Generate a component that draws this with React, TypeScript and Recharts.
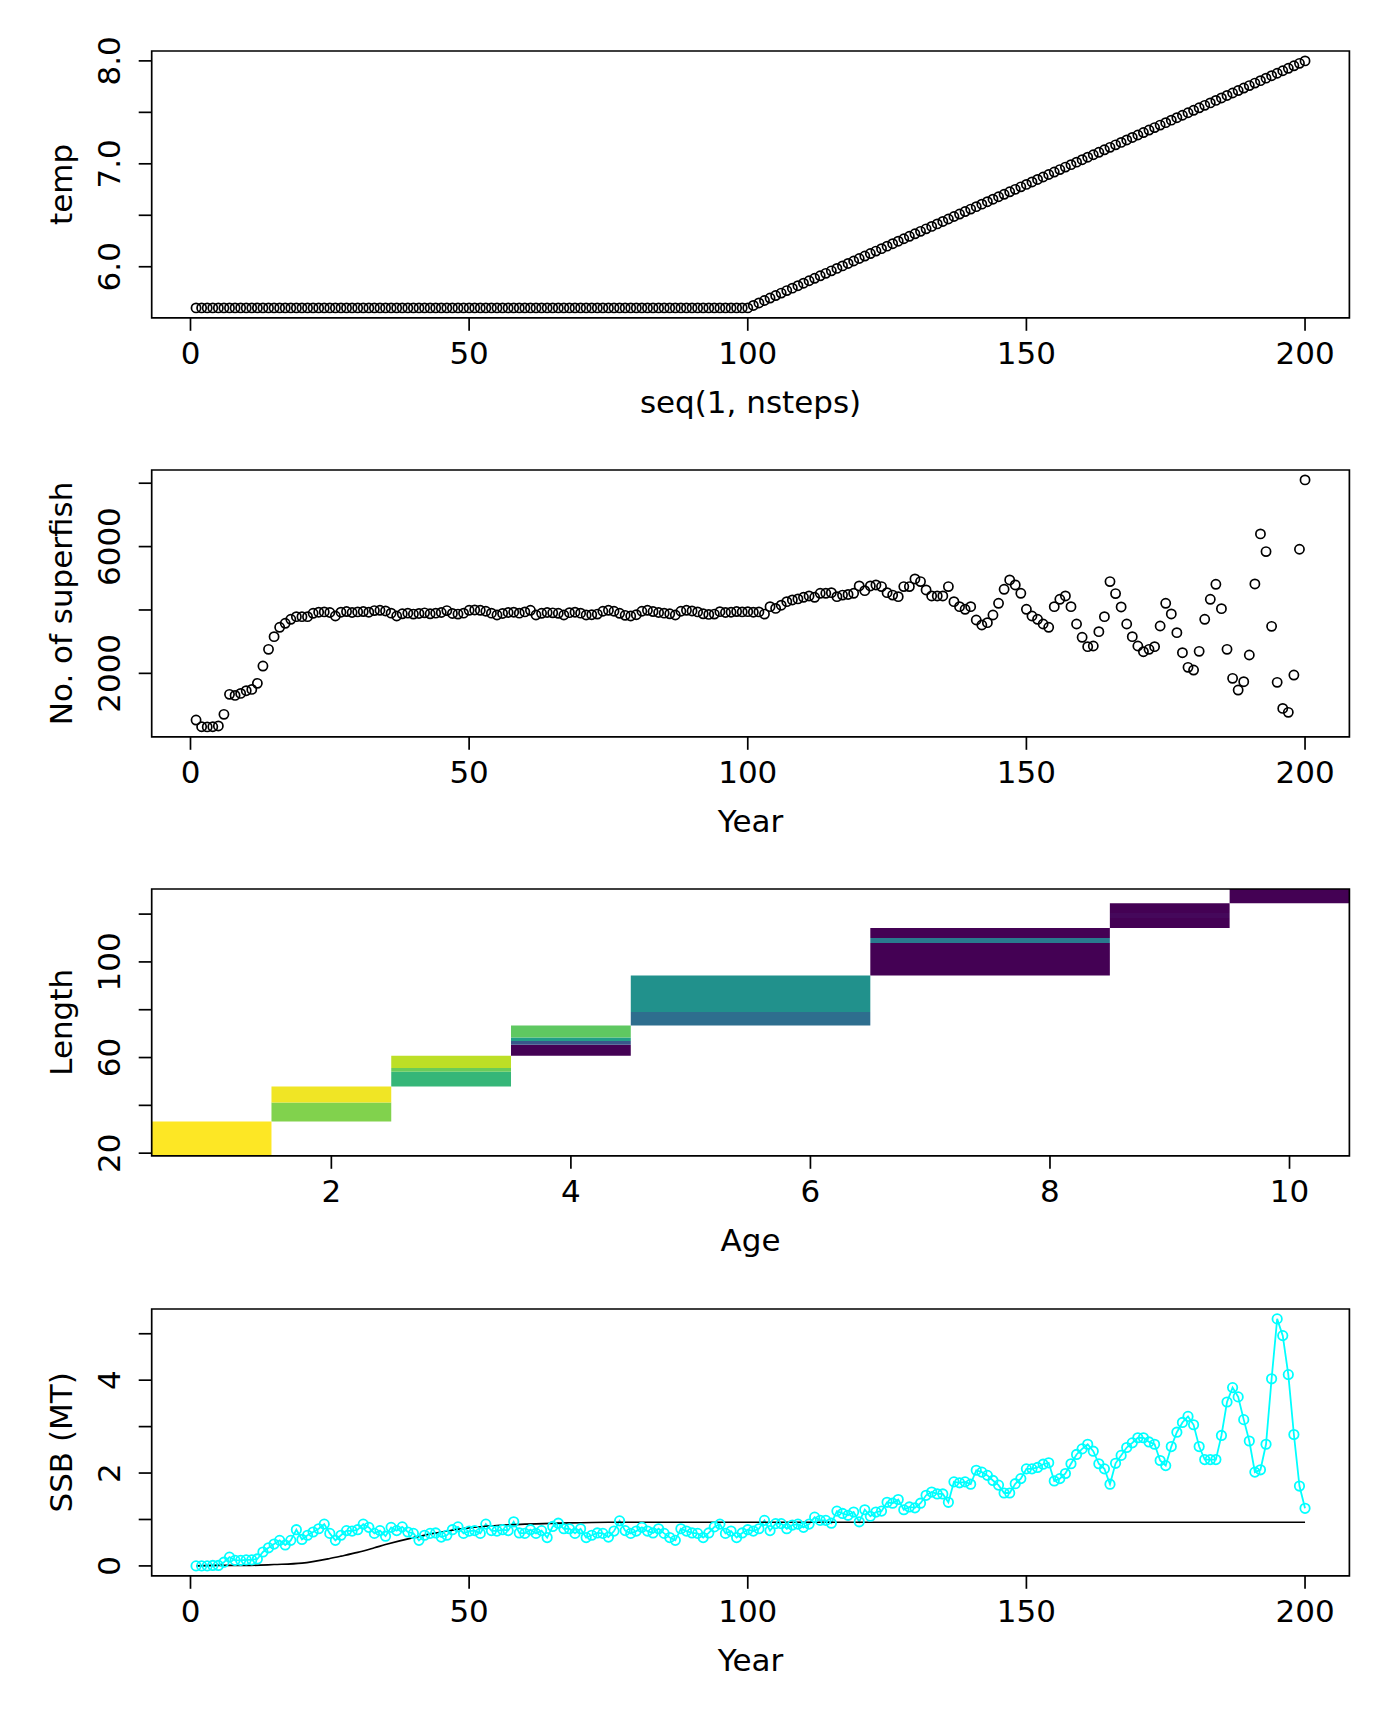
import React from 'react'
import {
  ScatterChart,
  Scatter,
  LineChart,
  Line,
  XAxis,
  YAxis,
  ReferenceArea,
  Label,
} from 'recharts'

// ---- data ----

const years = Array.from({ length: 200 }, (_, i) => i + 1)

// panel 1: temperature per time step
const temp = [
  5.6, 5.6, 5.6, 5.6, 5.6, 5.6, 5.6, 5.6, 5.6, 5.6,
  5.6, 5.6, 5.6, 5.6, 5.6, 5.6, 5.6, 5.6, 5.6, 5.6,
  5.6, 5.6, 5.6, 5.6, 5.6, 5.6, 5.6, 5.6, 5.6, 5.6,
  5.6, 5.6, 5.6, 5.6, 5.6, 5.6, 5.6, 5.6, 5.6, 5.6,
  5.6, 5.6, 5.6, 5.6, 5.6, 5.6, 5.6, 5.6, 5.6, 5.6,
  5.6, 5.6, 5.6, 5.6, 5.6, 5.6, 5.6, 5.6, 5.6, 5.6,
  5.6, 5.6, 5.6, 5.6, 5.6, 5.6, 5.6, 5.6, 5.6, 5.6,
  5.6, 5.6, 5.6, 5.6, 5.6, 5.6, 5.6, 5.6, 5.6, 5.6,
  5.6, 5.6, 5.6, 5.6, 5.6, 5.6, 5.6, 5.6, 5.6, 5.6,
  5.6, 5.6, 5.6, 5.6, 5.6, 5.6, 5.6, 5.6, 5.6, 5.6,
  5.624, 5.648, 5.672, 5.696, 5.72, 5.744, 5.768, 5.792, 5.816, 5.84,
  5.864, 5.888, 5.912, 5.936, 5.96, 5.984, 6.008, 6.032, 6.056, 6.08,
  6.104, 6.128, 6.152, 6.176, 6.2, 6.224, 6.248, 6.272, 6.296, 6.32,
  6.344, 6.368, 6.392, 6.416, 6.44, 6.464, 6.488, 6.512, 6.536, 6.56,
  6.584, 6.608, 6.632, 6.656, 6.68, 6.704, 6.728, 6.752, 6.776, 6.8,
  6.824, 6.848, 6.872, 6.896, 6.92, 6.944, 6.968, 6.992, 7.016, 7.04,
  7.064, 7.088, 7.112, 7.136, 7.16, 7.184, 7.208, 7.232, 7.256, 7.28,
  7.304, 7.328, 7.352, 7.376, 7.4, 7.424, 7.448, 7.472, 7.496, 7.52,
  7.544, 7.568, 7.592, 7.616, 7.64, 7.664, 7.688, 7.712, 7.736, 7.76,
  7.784, 7.808, 7.832, 7.856, 7.88, 7.904, 7.928, 7.952, 7.976, 8.0,
]

// panel 2: number of superfish per year
const superfish = [
  526, 315, 310, 315, 340, 706, 1337, 1305, 1368, 1452,
  1494, 1684, 2231, 2758, 3158, 3453, 3579, 3705, 3789, 3789,
  3789, 3895, 3930, 3940, 3920, 3810, 3930, 3950, 3920, 3940,
  3950, 3930, 3980, 3990, 3970, 3900, 3810, 3880, 3900, 3870,
  3890, 3910, 3880, 3900, 3920, 3980, 3890, 3870, 3900, 3990,
  4000, 3990, 3960, 3900, 3842, 3890, 3920, 3930, 3900, 3940,
  3990, 3842, 3895, 3920, 3910, 3895, 3842, 3915, 3930, 3900,
  3842, 3850, 3870, 3960, 3990, 3960, 3895, 3830, 3810, 3850,
  3960, 3990, 3950, 3920, 3900, 3880, 3842, 3960, 3990, 3970,
  3940, 3880, 3860, 3870, 3947, 3920, 3930, 3950, 3940, 3947,
  3930, 3940, 3870, 4105, 4050, 4150, 4263, 4316, 4350, 4400,
  4442, 4400, 4526, 4526, 4547, 4421, 4470, 4490, 4526, 4758,
  4610, 4758, 4790, 4737, 4547, 4470, 4420, 4737, 4737, 4979,
  4895, 4632, 4442, 4442, 4442, 4737, 4263, 4105, 4021, 4105,
  3684, 3526, 3600, 3842, 4210, 4653, 4947, 4790, 4526, 4021,
  3810, 3705, 3558, 3453, 4105, 4337, 4442, 4105, 3558, 3137,
  2842, 2863, 3316, 3789, 4895, 4516, 4095, 3558, 3158, 2863,
  2684, 2758, 2842, 3495, 4210, 3874, 3284, 2652, 2190, 2105,
  2695, 3705, 4337, 4810, 4042, 2758, 1842, 1474, 1737, 2579,
  4821, 6400, 5842, 3484, 1716, 895, 769, 1947, 5916, 8105,
]

// panel 3: length-at-age image cells (age range, length range, z level)
const cellAgeLo = [0.5, 1.5, 1.5, 2.5, 2.5, 2.5, 3.5, 3.5, 3.5, 3.5, 4.5, 4.5, 6.5, 6.5, 6.5, 8.5, 8.5, 8.5, 9.5]
const cellAgeHi = [1.5, 2.5, 2.5, 3.5, 3.5, 3.5, 4.5, 4.5, 4.5, 4.5, 6.5, 6.5, 8.5, 8.5, 8.5, 9.5, 9.5, 9.5, 10.5]
const cellLenLo = [18.9, 33.2, 41.2, 47.9, 54.1, 55.6, 60.8, 65.4, 66.9, 68.4, 73.4, 79.1, 94.3, 107.9, 110, 114.2, 118.4, 120.5, 124.5]
const cellLenHi = [33.2, 41.2, 47.9, 54.1, 55.6, 60.8, 65.4, 66.9, 68.4, 73.4, 79.1, 94.3, 107.9, 110, 114.2, 118.4, 120.5, 124.5, 130.5]
const cellZ = [1.0, 0.81, 0.98, 0.66, 0.77, 0.9, 0, 0.27, 0.56, 0.75, 0.36, 0.5, 0, 0.41, 0, 0, 0.02, 0, 0]

// panel 4: SSB (MT) per year
const ssb = [
  0, 0, 0, 0.01, 0.01, 0.08, 0.19, 0.12, 0.12, 0.13,
  0.13, 0.15, 0.3, 0.39, 0.47, 0.55, 0.45, 0.55, 0.78, 0.57,
  0.66, 0.73, 0.8, 0.9, 0.7, 0.55, 0.66, 0.76, 0.75, 0.78,
  0.9, 0.83, 0.7, 0.76, 0.64, 0.83, 0.76, 0.84, 0.73, 0.7,
  0.55, 0.66, 0.7, 0.71, 0.62, 0.66, 0.78, 0.84, 0.7, 0.75,
  0.76, 0.7, 0.9, 0.76, 0.75, 0.78, 0.76, 0.95, 0.71, 0.7,
  0.78, 0.7, 0.76, 0.61, 0.85, 0.92, 0.8, 0.8, 0.7, 0.8,
  0.61, 0.66, 0.71, 0.7, 0.62, 0.75, 0.97, 0.76, 0.7, 0.75,
  0.83, 0.75, 0.71, 0.8, 0.7, 0.61, 0.55, 0.8, 0.75, 0.71,
  0.7, 0.61, 0.71, 0.84, 0.9, 0.7, 0.75, 0.61, 0.71, 0.78,
  0.75, 0.8, 0.98, 0.76, 0.91, 0.91, 0.8, 0.88, 0.9, 0.83,
  0.9, 1.05, 0.98, 0.98, 0.92, 1.18, 1.13, 1.09, 1.16, 0.95,
  1.21, 1.07, 1.16, 1.18, 1.37, 1.35, 1.43, 1.21, 1.27, 1.25,
  1.35, 1.52, 1.59, 1.55, 1.55, 1.37, 1.81, 1.79, 1.81, 1.76,
  2.06, 2.02, 1.95, 1.84, 1.74, 1.57, 1.57, 1.77, 1.88, 2.09,
  2.09, 2.12, 2.19, 2.22, 1.83, 1.88, 1.99, 2.2, 2.4, 2.52,
  2.62, 2.47, 2.2, 2.09, 1.76, 2.21, 2.38, 2.55, 2.65, 2.76,
  2.76, 2.67, 2.62, 2.27, 2.16, 2.57, 2.88, 3.09, 3.22, 3.04,
  2.57, 2.29, 2.29, 2.29, 2.81, 3.53, 3.84, 3.64, 3.15, 2.69,
  2.02, 2.07, 2.62, 4.03, 5.32, 4.96, 4.12, 2.83, 1.72, 1.24,
]

// panel 4: smooth black reference curve
const refYears = [1, 5, 10, 15, 20, 25, 27, 30, 33, 35, 40, 45, 50, 55, 60, 66, 75, 90, 120, 160, 200]
const refSsb = [0, 0.01, 0.01, 0.03, 0.06, 0.16, 0.21, 0.29, 0.39, 0.46, 0.61, 0.73, 0.82, 0.87, 0.9, 0.92, 0.94, 0.94, 0.94, 0.94, 0.94]

// ---- styling / layout ----

const FONT = '"DejaVu Sans", sans-serif'
const FS = 31
const W = 1400
const MT = 20
const PH = 266.8
const XH = 110
const H = MT + PH + XH
const YW = 151.7
const MR = 50.6
const boxTops = [50.6, 470, 889.3, 1308.6]

const VIRIDIS = ['#440154', '#482475', '#414487', '#355F8D', '#2A788E', '#21918C', '#22A884', '#44BF70', '#7AD151', '#BDDF26', '#FDE725']

function viridis(z: number) {
  const p = Math.max(0, Math.min(1, z)) * 10
  const i = Math.min(9, Math.floor(p))
  const t = p - i
  const a = VIRIDIS[i]
  const b = VIRIDIS[i + 1]
  const ch = (s: string, k: number) => parseInt(s.slice(1 + 2 * k, 3 + 2 * k), 16)
  const mix = [0, 1, 2].map((k) => Math.round(ch(a, k) + (ch(b, k) - ch(a, k)) * t))
  return '#' + mix.map((v) => v.toString(16).padStart(2, '0')).join('')
}

const tempRows = years.map((y, i) => ({ year: y, temp: temp[i] }))
const fishRows = years.map((y, i) => ({ year: y, fish: superfish[i] }))
const ssbRows = years.map((y, i) => ({ year: y, ssb: ssb[i] }))
const refRows = refYears.map((y, i) => ({ year: y, ssb: refSsb[i] }))
const cellRows = cellZ.map((z, i) => ({
  x: (cellAgeLo[i] + cellAgeHi[i]) / 2,
  y: (cellLenLo[i] + cellLenHi[i]) / 2,
}))

const yearDomain: [number, number] = [-6.96, 207.96]
const yearTicks = [0, 50, 100, 150, 200]

const XTick = (props: any) => {
  const { x, y, payload } = props
  return (
    <text x={x} y={y + 33.7} textAnchor="middle" fontFamily={FONT} fontSize={FS} fill="#000">
      {payload.value}
    </text>
  )
}

const makeYTick = (shown: number[], fmt: (v: number) => string) => (props: any) => {
  const { x, y, payload } = props
  if (!shown.includes(payload.value)) return <g />
  const bx = x - 18.7
  return (
    <text
      x={bx}
      y={y}
      transform={`rotate(-90 ${bx} ${y})`}
      textAnchor="middle"
      fontFamily={FONT}
      fontSize={FS}
      fill="#000"
    >
      {fmt(payload.value)}
    </text>
  )
}

const xTitle = (title: string) => (props: any) => {
  const vb = props.viewBox
  return (
    <text x={vb.x + vb.width / 2} y={vb.y + 95.4} textAnchor="middle" fontFamily={FONT} fontSize={FS} fill="#000">
      {title}
    </text>
  )
}

const yTitle = (title: string) => (props: any) => {
  const vb = props.viewBox
  const bx = vb.x + vb.width - 79.4
  const cy = vb.y + vb.height / 2
  return (
    <text
      x={bx}
      y={cy}
      transform={`rotate(-90 ${bx} ${cy})`}
      textAnchor="middle"
      fontFamily={FONT}
      fontSize={FS}
      fill="#000"
    >
      {title}
    </text>
  )
}

const axisProps = {
  axisLine: false,
  tickSize: 13,
  tickMargin: 0,
  tickLine: { stroke: '#000', strokeWidth: 1.7 },
  allowDataOverflow: true,
  interval: 0 as const,
}

const BlackCircle = (props: any) => (
  <circle cx={props.cx} cy={props.cy} r={4.6} fill="none" stroke="#000" strokeWidth={1.7} />
)

const Box = ({ x, y }: { x: [number, number]; y: [number, number] }) => (
  <ReferenceArea x1={x[0]} x2={x[1]} y1={y[0]} y2={y[1]} fill="none" stroke="#000" strokeWidth={1.7} ifOverflow="visible" />
)

const chartMargin = { top: MT, right: MR, bottom: 0, left: 0 }

const Panel = ({ k, children }: { k: number; children: React.ReactNode }) => (
  <div style={{ position: 'absolute', left: 0, top: boxTops[k] - MT, width: W, height: H }}>{children}</div>
)

export default function App() {
  const tempDomain: [number, number] = [5.504, 8.096]
  const fishDomain: [number, number] = [-1.8, 8416.8]
  const ageDomain: [number, number] = [0.5, 10.5]
  const lenDomain: [number, number] = [18.9, 130.5]
  const ssbDomain: [number, number] = [-0.213, 5.533]

  return (
    <div style={{ position: 'absolute', left: 0, top: 0, width: 1400, height: 1728, background: '#fff' }}>
      <Panel k={0}>
        <ScatterChart width={W} height={H} margin={chartMargin}>
          <XAxis dataKey="year" type="number" domain={yearDomain} ticks={yearTicks} height={XH} tick={XTick} {...axisProps}>
            <Label content={xTitle('seq(1, nsteps)')} />
          </XAxis>
          <YAxis
            dataKey="temp"
            type="number"
            domain={tempDomain}
            ticks={[6, 6.5, 7, 7.5, 8]}
            width={YW}
            tick={makeYTick([6, 7, 8], (v) => v.toFixed(1))}
            {...axisProps}
          >
            <Label content={yTitle('temp')} />
          </YAxis>
          <Scatter data={tempRows} shape={BlackCircle} isAnimationActive={false} />
          <Box x={yearDomain} y={tempDomain} />
        </ScatterChart>
      </Panel>

      <Panel k={1}>
        <ScatterChart width={W} height={H} margin={chartMargin}>
          <XAxis dataKey="year" type="number" domain={yearDomain} ticks={yearTicks} height={XH} tick={XTick} {...axisProps}>
            <Label content={xTitle('Year')} />
          </XAxis>
          <YAxis
            dataKey="fish"
            type="number"
            domain={fishDomain}
            ticks={[2000, 4000, 6000, 8000]}
            width={YW}
            tick={makeYTick([2000, 6000], (v) => String(v))}
            {...axisProps}
          >
            <Label content={yTitle('No. of superfish')} />
          </YAxis>
          <Scatter data={fishRows} shape={BlackCircle} isAnimationActive={false} />
          <Box x={yearDomain} y={fishDomain} />
        </ScatterChart>
      </Panel>

      <Panel k={2}>
        <ScatterChart width={W} height={H} margin={chartMargin}>
          <XAxis dataKey="x" type="number" domain={ageDomain} ticks={[2, 4, 6, 8, 10]} height={XH} tick={XTick} {...axisProps}>
            <Label content={xTitle('Age')} />
          </XAxis>
          <YAxis
            dataKey="y"
            type="number"
            domain={lenDomain}
            ticks={[20, 40, 60, 80, 100, 120]}
            width={YW}
            tick={makeYTick([20, 60, 100], (v) => String(v))}
            {...axisProps}
          >
            <Label content={yTitle('Length')} />
          </YAxis>
          {cellZ.map((z, i) => (
            <ReferenceArea
              key={i}
              x1={cellAgeLo[i]}
              x2={cellAgeHi[i]}
              y1={cellLenLo[i]}
              y2={cellLenHi[i]}
              fill={viridis(z)}
              fillOpacity={1}
              stroke="none"
              ifOverflow="visible"
            />
          ))}
          <Scatter data={cellRows} shape={() => <g />} isAnimationActive={false} />
          <Box x={ageDomain} y={lenDomain} />
        </ScatterChart>
      </Panel>

      <Panel k={3}>
        <LineChart width={W} height={H} margin={chartMargin}>
          <XAxis dataKey="year" type="number" domain={yearDomain} ticks={yearTicks} height={XH} tick={XTick} {...axisProps}>
            <Label content={xTitle('Year')} />
          </XAxis>
          <YAxis
            type="number"
            domain={ssbDomain}
            ticks={[0, 1, 2, 3, 4, 5]}
            width={YW}
            tick={makeYTick([0, 2, 4], (v) => String(v))}
            {...axisProps}
          >
            <Label content={yTitle('SSB (MT)')} />
          </YAxis>
          <Line
            data={ssbRows}
            dataKey="ssb"
            type="linear"
            stroke="#00FFFF"
            strokeWidth={1.8}
            dot={{ r: 4.7, fill: 'none', stroke: '#00FFFF', strokeWidth: 1.8 }}
            isAnimationActive={false}
          />
          <Line data={refRows} dataKey="ssb" type="monotone" stroke="#000" strokeWidth={1.7} dot={false} isAnimationActive={false} />
          <Box x={yearDomain} y={ssbDomain} />
        </LineChart>
      </Panel>
    </div>
  )
}
